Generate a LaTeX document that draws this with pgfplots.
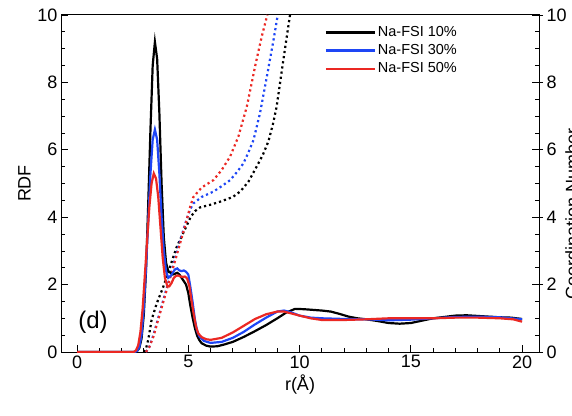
\documentclass[border=0pt]{standalone}
\usepackage{fontspec}
\setmainfont{Liberation Sans}
\usepackage{pgfplots}
\pgfplotsset{compat=1.18}
\definecolor{cnblue}{RGB}{30,70,245}
\definecolor{cnred}{RGB}{235,40,35}

\begin{document}
\begin{tikzpicture}
\pgfplotsset{
    rdf/.style={line width=2.2pt},
    cn/.style={line width=2.2pt, dash pattern=on 2.2pt off 3pt},
}
\begin{axis}[
    name=ax, at={(0,0)}, anchor=south west,
    scale only axis, width=478pt, height=337pt,
    xmin=-0.72, xmax=20.76, ymin=0, ymax=10,
    xtick={0,5,...,20}, minor x tick num=4,
    ytick={0,2,...,10}, minor y tick num=3,
    tick align=inside, xtick pos=bottom, ytick pos=both, yticklabel pos=left,
    major tick length=7pt, minor tick length=4pt,
    tick style={black, line width=0.8pt},
    axis line style={line width=1pt},
    ticklabel style={font=\fontsize{18}{18}\selectfont},
    /pgf/number format/assume math mode=true,
    xlabel={r(Å)}, ylabel={RDF},
    label style={font=\fontsize{18}{18}\selectfont},
    legend style={draw=none, fill=none, at={(rel axis cs:0.545,0.978)}, anchor=north west,
        font=\fontsize{14.5}{14.5}\selectfont, row sep=2.5pt},
    legend cell align=left,
    legend image code/.code={\draw[#1] (0pt,0pt) -- (49pt,0pt);},
]
% coordination numbers (dotted)
\addplot[cn, black, forget plot] coordinates {(3.0,0)(3.1,0.1)(3.2,0.36)(3.35,0.95)(3.58,1.44)(3.88,1.94)(4.18,2.53)(4.48,3.12)(4.75,3.5)(4.93,3.75)(5.1,4.0)(5.3,4.18)(5.53,4.29)(6.0,4.37)(6.43,4.46)(7.0,4.6)(7.33,4.76)(7.7,5.05)(8.07,5.5)(8.35,5.85)(8.6,6.25)(8.8,6.75)(8.97,7.28)(9.27,8.66)(9.57,10)};
\addplot[cn, cnblue, forget plot] coordinates {(3.1,0)(3.25,0.15)(3.43,0.5)(3.73,1.2)(4.03,1.9)(4.33,2.6)(4.63,3.3)(4.93,3.95)(5.1,4.25)(5.23,4.41)(5.6,4.6)(6.13,4.76)(6.5,4.92)(6.88,5.1)(7.2,5.35)(7.48,5.6)(7.7,5.92)(7.93,6.29)(8.22,7.08)(8.53,8.17)(8.83,9.26)(9.02,10)};
\addplot[cn, cnred, forget plot] coordinates {(3.1,0)(3.25,0.15)(3.43,0.45)(3.73,1.15)(4.03,1.84)(4.33,2.53)(4.63,3.22)(4.93,3.92)(5.1,4.35)(5.23,4.6)(5.6,4.88)(6.13,5.1)(6.5,5.4)(6.88,5.8)(7.25,6.39)(7.63,7.28)(8.0,8.47)(8.3,9.36)(8.55,10)};
% RDF (solid)
\addplot[rdf, black] coordinates {(0,0)(2.6,0)(2.7,0.03)(2.8,0.12)(2.9,0.4)(3.0,1.1)(3.1,2.4)(3.2,4.4)(3.3,6.6)(3.4,8.5)(3.5,9.2)(3.6,8.7)(3.7,7.1)(3.8,5.0)(3.9,3.4)(4.0,2.65)(4.1,2.4)(4.2,2.35)(4.3,2.3)(4.4,2.32)(4.5,2.35)(4.6,2.3)(4.7,2.2)(4.8,2.1)(4.9,2.0)(5.0,1.75)(5.1,1.35)(5.2,1.0)(5.3,0.7)(5.4,0.48)(5.5,0.35)(5.6,0.26)(5.8,0.19)(6.0,0.16)(6.3,0.17)(6.6,0.22)(7.0,0.3)(7.5,0.45)(8.0,0.62)(8.5,0.8)(9.0,1.0)(9.4,1.17)(9.8,1.28)(10.2,1.27)(10.6,1.25)(11.0,1.23)(11.4,1.2)(11.8,1.13)(12.2,1.05)(12.6,1.0)(13.0,0.97)(13.5,0.92)(14.0,0.86)(14.5,0.84)(15.0,0.86)(15.5,0.93)(16.0,1.0)(16.5,1.04)(17.0,1.08)(17.5,1.09)(18.0,1.07)(18.5,1.05)(19.0,1.03)(19.5,1.02)(20.0,0.98)};
\addlegendentry{Na-FSI 10\%}
\addplot[rdf, cnblue] coordinates {(0,0)(2.6,0)(2.7,0.03)(2.8,0.15)(2.9,0.5)(3.0,1.3)(3.1,2.5)(3.2,3.9)(3.3,5.3)(3.4,6.3)(3.5,6.6)(3.6,6.3)(3.7,5.3)(3.8,4.0)(3.9,3.0)(4.0,2.4)(4.1,2.2)(4.2,2.25)(4.3,2.35)(4.4,2.45)(4.5,2.48)(4.6,2.42)(4.7,2.4)(4.8,2.42)(4.9,2.38)(5.0,2.3)(5.1,1.9)(5.2,1.45)(5.3,0.95)(5.4,0.62)(5.5,0.46)(5.7,0.33)(6.0,0.27)(6.5,0.3)(7.0,0.42)(7.5,0.6)(8.0,0.82)(8.5,1.02)(9.0,1.2)(9.3,1.23)(9.6,1.18)(10.0,1.08)(10.5,1.02)(11.0,1.0)(12.0,0.98)(13.0,0.97)(14.0,0.94)(15.0,0.96)(16.0,1.0)(17.0,1.04)(18.0,1.05)(19.0,1.03)(20.0,0.97)};
\addlegendentry{Na-FSI 30\%}
\addplot[rdf, cnred] coordinates {(0,0)(2.55,0)(2.65,0.05)(2.75,0.2)(2.85,0.6)(2.95,1.3)(3.05,2.3)(3.15,3.3)(3.25,4.3)(3.35,5.0)(3.45,5.3)(3.55,5.15)(3.65,4.6)(3.75,3.7)(3.85,2.8)(3.95,2.2)(4.05,1.97)(4.15,1.95)(4.25,2.05)(4.35,2.2)(4.45,2.26)(4.55,2.27)(4.65,2.24)(4.75,2.23)(4.85,2.24)(4.95,2.18)(5.05,1.95)(5.15,1.5)(5.25,1.1)(5.35,0.75)(5.45,0.55)(5.6,0.44)(5.8,0.38)(6.0,0.36)(6.5,0.42)(7.0,0.58)(7.5,0.78)(8.0,0.98)(8.5,1.12)(9.0,1.2)(9.3,1.2)(9.6,1.15)(10.0,1.08)(10.5,1.0)(11.0,0.95)(12.0,0.95)(13.0,0.97)(14.0,1.0)(15.0,1.0)(16.0,1.0)(17.0,1.02)(18.0,1.02)(19.0,1.0)(19.6,0.97)(20.0,0.9)};
\addlegendentry{Na-FSI 50\%}
\node[font=\fontsize{24}{24}\selectfont] at (axis cs:0.72,0.88) {(d)};
\end{axis}
\begin{axis}[
    at={(0,0)}, anchor=south west,
    scale only axis, width=478pt, height=337pt,
    xmin=-0.72, xmax=20.76, ymin=0, ymax=10,
    hide x axis, axis y line*=right,
    ytick={0,2,...,10}, minor y tick num=0,
    tick align=outside, major tick length=4pt,
    tick style={black, line width=0.8pt},
    axis line style={line width=1pt},
    ticklabel style={font=\fontsize{18}{18}\selectfont},
    /pgf/number format/assume math mode=true,
]
\end{axis}
\node[rotate=90, anchor=north west, inner sep=0pt, font=\fontsize{18}{18}\selectfont]
    at ([xshift=26pt, yshift=52pt]ax.south east) {Coordination Number};
\pgfresetboundingbox
\useasboundingbox (-61pt,-63pt) rectangle (511pt,352pt);
\end{tikzpicture}
\end{document}
